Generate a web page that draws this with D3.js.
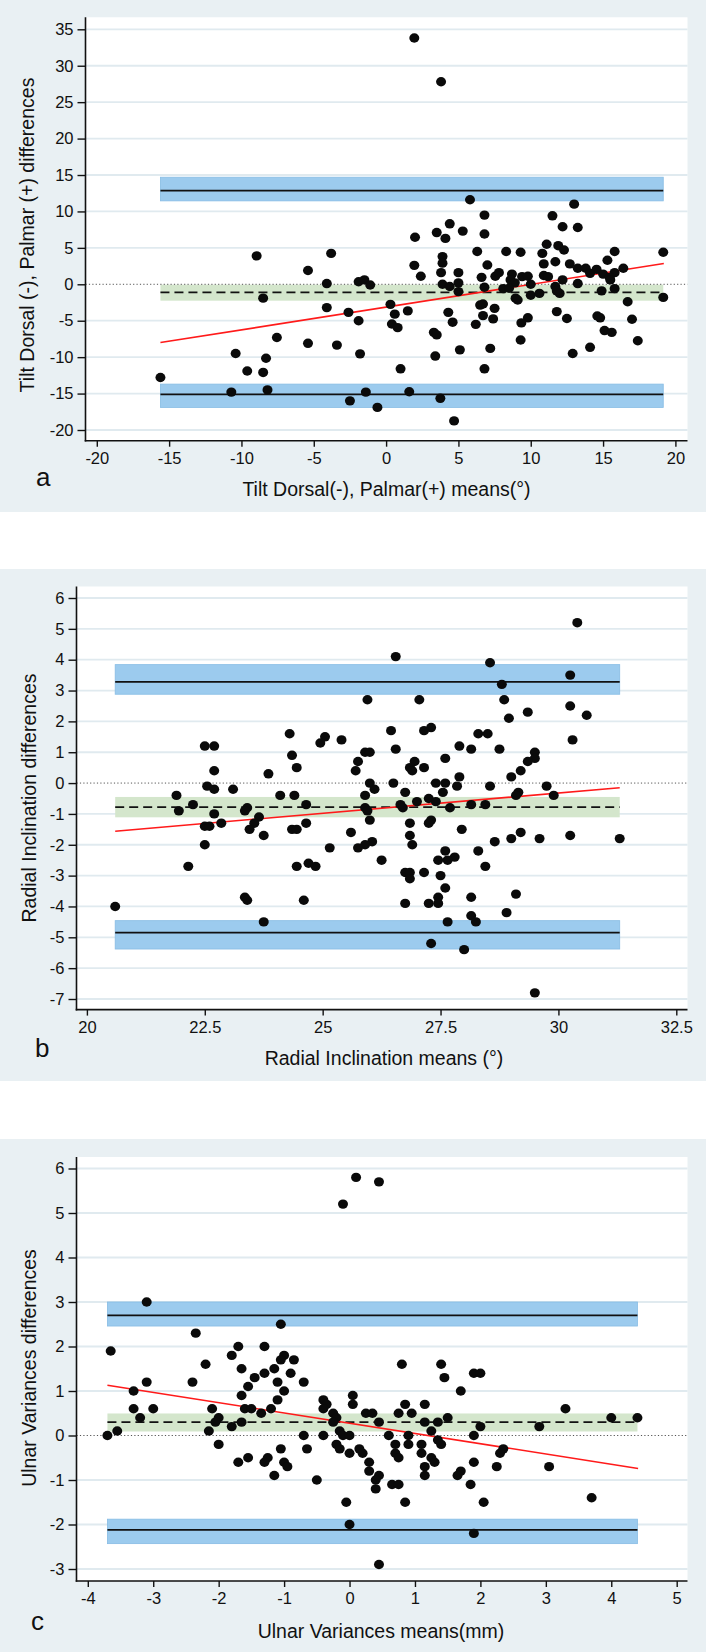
<!DOCTYPE html>
<html>
<head>
<meta charset="utf-8">
<script src="https://cdn.jsdelivr.net/npm/d3@7"></script>
<style>
  html, body { margin: 0; padding: 0; background: #ffffff; }
  svg { display: block; }
  text { font-family: "Liberation Sans", Arial, Helvetica, sans-serif; fill: #111; }
</style>
</head>
<body>
<svg id="chart" width="706" height="1652"></svg>
<script>
// ---------------- DATA ----------------
// Panel a: Tilt
const tiltMeans = [1.95,3.8,5.8,13.0,6.8,11.5,4.4,3.5,5.3,6.8,2.0,4.1,12.2,13.25,-8.95,-3.8,6.3,8.3,9.3,10.8,11.1,11.9,12.3,15.8,19.16,3.9,3.9,1.95,7.0,10.9,11.7,12.7,15.3,13.25,13.8,14.55,16.4,14.1,15.0,15.8,-5.4,3.8,5.0,7.55,7.8,8.7,2.4,6.6,9.4,9.8,10.9,11.2,12.2,15.45,-1.9,-1.5,-1.1,-4.1,3.9,5.0,4.4,8.6,8.9,10.0,13.25,15.5,11.7,6.8,8.1,8.5,5.0,12.0,11.8,14.9,15.8,10.0,10.6,-8.5,8.95,9.1,19.16,16.7,0.3,-4.1,6.5,6.7,7.5,-2.6,0.6,1.5,4.3,11.8,6.7,14.6,14.8,-1.9,4.6,7.4,9.8,9.35,12.5,17.0,0.4,0.8,6.2,15.1,15.6,3.3,3.5,-7.55,9.3,17.4,-5.4,-3.4,5.1,7.2,14.1,-10.4,-1.8,3.4,12.9,-8.3,-9.6,-8.5,1.0,6.8,-15.6,-10.7,-8.2,-1.4,1.6,3.75,-2.5,-0.6,4.7];
const tiltDiffs = [33.8,27.8,11.6,11.0,9.5,9.4,8.3,7.1,7.3,6.9,6.45,6.3,7.9,7.8,3.9,4.25,4.5,4.5,4.4,4.25,5.5,5.3,4.7,4.5,4.4,3.8,2.9,2.6,2.65,2.8,3.1,2.8,3.3,2.2,2.2,2.05,2.2,1.5,1.4,1.6,1.9,1.6,1.6,1.1,1.6,1.4,1.1,0.95,1.05,1.1,1.2,1.05,0.6,0.95,0.35,0.6,-0.1,0.1,0.0,0.2,-0.3,0.6,0.2,0.0,0.1,0.6,-0.3,-0.4,-0.6,-0.55,-1.0,-1.25,-0.9,-0.9,-0.6,-1.5,-1.25,-1.9,-1.9,-2.15,-1.8,-2.4,-2.75,-3.2,-2.85,-2.7,-3.3,-3.85,-4.1,-3.65,-3.85,-3.75,-4.3,-4.35,-4.6,-5.0,-5.2,-4.75,-4.6,-5.3,-4.7,-4.8,-5.45,-5.95,-5.5,-6.35,-6.6,-6.6,-6.95,-7.3,-7.65,-7.75,-8.1,-8.35,-9.0,-8.8,-8.65,-9.5,-9.55,-9.85,-9.5,-10.15,-11.9,-12.1,-11.6,-11.6,-12.8,-14.8,-14.5,-14.8,-14.75,-15.65,-16.0,-16.9,-18.75];
const tiltBias  = [-1.1, -2.25, -0.05];   // [line, CI low, CI high]
const tiltLower = [-15.1, -16.9, -13.7];
const tiltUpper = [12.85, 11.45, 14.7];
const tiltTrend = [[-15.6, -8.0], [19.2, 2.85]];
const tiltXTicks = [-20,-15,-10,-5,0,5,10,15,20];
const tiltYTicks = [-20,-15,-10,-5,0,5,10,15,20,25,30,35];

// Panel b: Radial inclination
const radialMeans = [30.4,26.55,28.55,30.25,28.8,25.95,27.05,28.85,30.25,29.35,30.6,28.95,27.3,27.15,26.45,24.3,28.3,28.5,30.3,25.05,24.95,25.4,22.5,22.7,26.55,27.9,28.15,28.75,25.9,26.0,29.5,24.35,27.6,29.5,25.75,26.95,29.35,26.85,27.15,24.45,26.9,22.7,29.2,25.7,23.85,27.9,29.0,26.5,26.0,27.4,27.6,22.55,27.85,28.55,29.75,22.7,23.1,26.1,21.9,24.1,24.4,25.9,26.75,27.55,29.15,29.1,29.9,27.25,27.4,27.0,22.25,24.65,26.65,28.15,28.45,26.7,23.4,25.9,27.7,21.95,23.35,25.95,22.7,23.65,26.0,27.3,27.25,22.85,24.65,23.55,26.85,22.5,22.6,23.45,24.35,24.45,27.95,25.6,29.2,23.75,26.85,30.25,29.0,29.6,31.3,26.05,28.65,25.9,26.9,22.5,25.75,25.15,28.3,27.6,27.8,27.45,27.65,26.25,24.7,24.85,24.45,22.15,28.45,26.75,26.85,27.15,27.5,26.85,27.6,29.1,23.35,23.4,24.6,27.45,28.15,26.75,27.25,27.45,20.6,28.9,28.15,23.75,27.65,28.25,27.3,28.0,29.5];
const radialDiffs = [5.2,4.1,3.9,3.5,3.2,2.7,2.7,2.7,2.5,2.3,2.2,2.1,1.8,1.7,1.7,1.6,1.6,1.6,1.4,1.5,1.3,1.4,1.2,1.2,1.1,1.2,1.1,1.1,1.0,1.0,1.0,0.9,0.8,0.8,0.7,0.7,0.7,0.5,0.5,0.5,0.4,0.4,0.4,0.4,0.3,0.2,0.2,0.0,0.0,0.0,0.0,-0.1,-0.1,-0.1,-0.1,-0.2,-0.2,-0.2,-0.4,-0.4,-0.4,-0.4,-0.3,-0.3,-0.3,-0.4,-0.4,-0.5,-0.6,-0.6,-0.7,-0.7,-0.7,-0.7,-0.7,-0.8,-0.8,-0.8,-0.8,-0.9,-0.9,-0.9,-1.0,-1.1,-1.2,-1.2,-1.3,-1.3,-1.3,-1.3,-1.3,-1.4,-1.4,-1.5,-1.5,-1.5,-1.5,-1.6,-1.6,-1.7,-1.7,-1.7,-1.8,-1.8,-1.8,-1.9,-1.9,-2.0,-2.0,-2.0,-2.1,-2.1,-2.2,-2.2,-2.4,-2.5,-2.5,-2.5,-2.6,-2.7,-2.7,-2.7,-2.7,-2.9,-2.9,-2.9,-3.0,-3.1,-3.4,-3.6,-3.7,-3.8,-3.8,-3.7,-3.7,-3.9,-3.9,-3.9,-4.0,-4.2,-4.3,-4.5,-4.5,-4.5,-5.2,-5.4,-6.8];
const radialBias  = [-0.78, -1.11, -0.45];
const radialLower = [-4.85, -5.38, -4.46];
const radialUpper = [3.28, 2.88, 3.84];
const radialTrend = [[20.6, -1.56], [31.3, -0.15]];
const radialXTicks = [20,22.5,25,27.5,30,32.5];
const radialYTicks = [-7,-6,-5,-4,-3,-2,-1,0,1,2,3,4,5,6];

// Panel c: Ulnar variance
const ulnarMeans = [0.1,0.45,-0.1,-3.1,-1.05,-2.35,-3.65,-1.8,-1.7,-1.3,-1.0,-0.85,-1.05,-2.2,0.8,1.4,-1.65,-1.15,-1.3,-0.9,1.9,2.0,-1.45,1.45,-2.4,-3.1,-1.1,-0.7,-1.55,-3.3,-1.0,1.7,-1.65,0.05,-1.1,-0.4,-0.35,0.05,0.85,1.15,-3.3,-3.0,-2.1,-1.6,-1.5,-1.2,-0.4,3.3,-1.35,-0.25,0.25,0.35,0.75,0.95,-3.2,-2.0,-0.2,1.5,4.0,4.4,-2.05,-1.65,-0.25,0.45,1.15,1.35,-1.8,2.0,2.9,-3.55,-2.15,-0.15,1.25,-3.7,-0.7,-0.4,-0.1,0.0,0.6,0.9,1.9,-2.0,-0.2,0.7,0.9,1.1,1.4,1.35,-0.15,-0.65,0.15,-1.05,2.35,0.0,0.2,1.1,2.3,0.7,0.75,-1.55,-1.25,1.25,-1.7,-1.3,-1.0,0.3,1.3,1.9,-0.95,1.15,2.25,3.05,1.7,0.3,-1.15,1.15,0.45,1.65,0.4,-0.5,0.65,0.75,1.85,0.4,3.7,-0.05,0.85,2.05,0.0,1.9,0.45];
const ulnarDiffs = [5.8,5.7,5.2,3.0,2.5,2.3,1.9,1.8,2.0,2.0,1.8,1.7,1.7,1.6,1.6,1.6,1.5,1.5,1.4,1.4,1.4,1.4,1.3,1.3,1.2,1.2,1.2,1.2,1.1,1.0,1.0,1.0,0.9,0.9,0.8,0.8,0.7,0.7,0.7,0.7,0.6,0.6,0.6,0.6,0.6,0.6,0.6,0.6,0.5,0.5,0.5,0.5,0.5,0.5,0.4,0.4,0.4,0.4,0.4,0.4,0.3,0.3,0.3,0.3,0.3,0.3,0.2,0.2,0.2,0.1,0.1,0.1,0.1,0.0,0.0,0.0,0.0,0.0,0.0,0.0,0.0,-0.2,-0.2,-0.2,-0.2,-0.2,-0.2,-0.1,-0.3,-0.3,-0.3,-0.3,-0.3,-0.4,-0.4,-0.4,-0.4,-0.4,-0.5,-0.5,-0.5,-0.5,-0.6,-0.6,-0.6,-0.6,-0.6,-0.6,-0.7,-0.7,-0.7,-0.7,-0.8,-0.8,-0.9,-0.9,-0.9,-0.9,-1.0,-1.0,-1.1,-1.1,-1.1,-1.2,-1.4,-1.5,-1.5,-1.5,-2.0,-2.2,-2.9];
const ulnarBias  = [0.30, 0.09, 0.495];
const ulnarLower = [-2.12, -2.43, -1.88];
const ulnarUpper = [2.70, 2.46, 3.0];
const ulnarTrend = [[-3.7, 1.13], [4.41, -0.74]];
const ulnarXTicks = [-4,-3,-2,-1,0,1,2,3,4,5];
const ulnarYTicks = [-3,-2,-1,0,1,2,3,4,5,6];

const panelLetters = ["a", "b", "c"];
const xTitles = ["Tilt Dorsal(-), Palmar(+) means(°)", "Radial Inclination means (°)", "Ulnar Variances means(mm)"];
const yTitles = ["Tilt Dorsal (-), Palmar (+) differences", "Radial Inclination differences", "Ulnar Variances differences"];

// ---------------- LAYOUT ----------------
const W = 706;
const layouts = [
  { bgTop: 0,    bgH: 512, left: 85.5, right: 687.5, top: 17.3,  bottom: 440.7,
    xd: [-20, 20], xr: [96.8, 675.4], yd: [35, -20], yr: [29.3, 430],
    yTitle: [34, 235], xTitle: [386.5, 495.7], letter: [36, 486] },
  { bgTop: 569,  bgH: 512, left: 76.5, right: 687.5, top: 586.5, bottom: 1009.6,
    xd: [20, 32.5], xr: [86.9, 676.3], yd: [6, -7], yr: [598, 999],
    yTitle: [36, 798], xTitle: [384, 1065], letter: [35, 1057] },
  { bgTop: 1139, bgH: 513, left: 76.5, right: 687.5, top: 1157,  bottom: 1581,
    xd: [-4, 5], xr: [87.8, 676.7], yd: [6, -3], yr: [1168.5, 1569],
    yTitle: [36, 1368], xTitle: [381, 1638], letter: [31, 1630] }
];

const panels = [
  { means: tiltMeans, diffs: tiltDiffs, bias: tiltBias, lower: tiltLower, upper: tiltUpper, trend: tiltTrend, xt: tiltXTicks, yt: tiltYTicks },
  { means: radialMeans, diffs: radialDiffs, bias: radialBias, lower: radialLower, upper: radialUpper, trend: radialTrend, xt: radialXTicks, yt: radialYTicks },
  { means: ulnarMeans, diffs: ulnarDiffs, bias: ulnarBias, lower: ulnarLower, upper: ulnarUpper, trend: ulnarTrend, xt: ulnarXTicks, yt: ulnarYTicks }
];

const svg = d3.select("#chart");

panels.forEach((p, i) => {
  const L = layouts[i];
  const x = d3.scaleLinear().domain(L.xd).range(L.xr);
  const y = d3.scaleLinear().domain(L.yd).range(L.yr);
  const g = svg.append("g");

  // panel background
  g.append("rect").attr("x", 0).attr("y", L.bgTop).attr("width", W).attr("height", L.bgH)
    .attr("fill", "#e9f0f3");
  // plot region
  g.append("rect").attr("x", L.left).attr("y", L.top)
    .attr("width", L.right - L.left).attr("height", L.bottom - L.top).attr("fill", "#ffffff");

  // gridlines
  g.selectAll(".grid").data(p.yt.filter(v => v !== 0)).join("line")
    .attr("x1", L.left).attr("x2", L.right)
    .attr("y1", d => y(d)).attr("y2", d => y(d))
    .attr("stroke", "#e0eaef").attr("stroke-width", 1.8);

  const xe = d3.extent(p.means);
  const bandX0 = x(xe[0]), bandX1 = x(xe[1]);

  // limits of agreement bands (blue)
  [p.lower, p.upper].forEach(b => {
    g.append("rect").attr("x", bandX0).attr("width", bandX1 - bandX0)
      .attr("y", y(b[2])).attr("height", y(b[1]) - y(b[2]))
      .attr("fill", "#9ccbee").attr("stroke", "#87bce4").attr("stroke-width", 0.8);
  });
  // bias band (green)
  g.append("rect").attr("x", bandX0).attr("width", bandX1 - bandX0)
    .attr("y", y(p.bias[2])).attr("height", y(p.bias[1]) - y(p.bias[2]))
    .attr("fill", "#d4e6cc");

  // zero reference (dotted)
  g.append("line").attr("x1", L.left).attr("x2", L.right)
    .attr("y1", y(0)).attr("y2", y(0))
    .attr("stroke", "#555").attr("stroke-width", 1).attr("stroke-dasharray", "1.2,2.2");

  // limit lines
  [p.lower, p.upper].forEach(b => {
    g.append("line").attr("x1", bandX0).attr("x2", bandX1)
      .attr("y1", y(b[0])).attr("y2", y(b[0]))
      .attr("stroke", "#111").attr("stroke-width", 1.8);
  });
  // bias dashed line
  g.append("line").attr("x1", bandX0).attr("x2", bandX1)
    .attr("y1", y(p.bias[0])).attr("y2", y(p.bias[0]))
    .attr("stroke", "#111").attr("stroke-width", 1.8).attr("stroke-dasharray", "9,5");

  // regression line
  g.append("line")
    .attr("x1", x(p.trend[0][0])).attr("y1", y(p.trend[0][1]))
    .attr("x2", x(p.trend[1][0])).attr("y2", y(p.trend[1][1]))
    .attr("stroke", "#ff1a1a").attr("stroke-width", 1.6);

  // points
  g.selectAll(".pt").data(p.means.map((m, k) => [m, p.diffs[k]])).join("ellipse")
    .attr("cx", d => x(d[0])).attr("cy", d => y(d[1]))
    .attr("rx", 5.0).attr("ry", 4.7).attr("fill", "#0a0a0a");

  // axes
  const yAxis = d3.axisLeft(y).tickValues(p.yt).tickSize(8).tickPadding(4).tickFormat(d => String(d));
  const ya = g.append("g").attr("transform", `translate(${L.left},0)`).call(yAxis);
  ya.select(".domain").remove();
  ya.selectAll(".tick line").attr("stroke", "#111").attr("stroke-width", 1.4);
  ya.selectAll(".tick text").attr("font-size", 16.5).style("font-family", '"Liberation Sans", Arial, sans-serif').attr("fill", "#111");

  const xAxis = d3.axisBottom(x).tickValues(p.xt).tickSize(6).tickPadding(5.5).tickFormat(d => String(d));
  const xa = g.append("g").attr("transform", `translate(0,${L.bottom})`).call(xAxis);
  xa.select(".domain").remove();
  xa.selectAll(".tick line").attr("stroke", "#111").attr("stroke-width", 1.4);
  xa.selectAll(".tick text").attr("font-size", 16.5).style("font-family", '"Liberation Sans", Arial, sans-serif').attr("fill", "#111");

  g.append("line").attr("x1", L.left).attr("x2", L.left).attr("y1", L.top).attr("y2", L.bottom + 0.8)
    .attr("stroke", "#111").attr("stroke-width", 1.6);
  g.append("line").attr("x1", L.left - 0.8).attr("x2", L.right).attr("y1", L.bottom).attr("y2", L.bottom)
    .attr("stroke", "#111").attr("stroke-width", 1.6);

  // titles
  g.append("text").attr("transform", `translate(${L.yTitle[0]},${L.yTitle[1]}) rotate(-90)`)
    .attr("text-anchor", "middle").attr("font-size", 19.5).text(yTitles[i]);
  g.append("text").attr("x", L.xTitle[0]).attr("y", L.xTitle[1])
    .attr("text-anchor", "middle").attr("font-size", 19.5).text(xTitles[i]);
  g.append("text").attr("x", L.letter[0]).attr("y", L.letter[1])
    .attr("font-size", 26).text(panelLetters[i]);
});
</script>
</body>
</html>
